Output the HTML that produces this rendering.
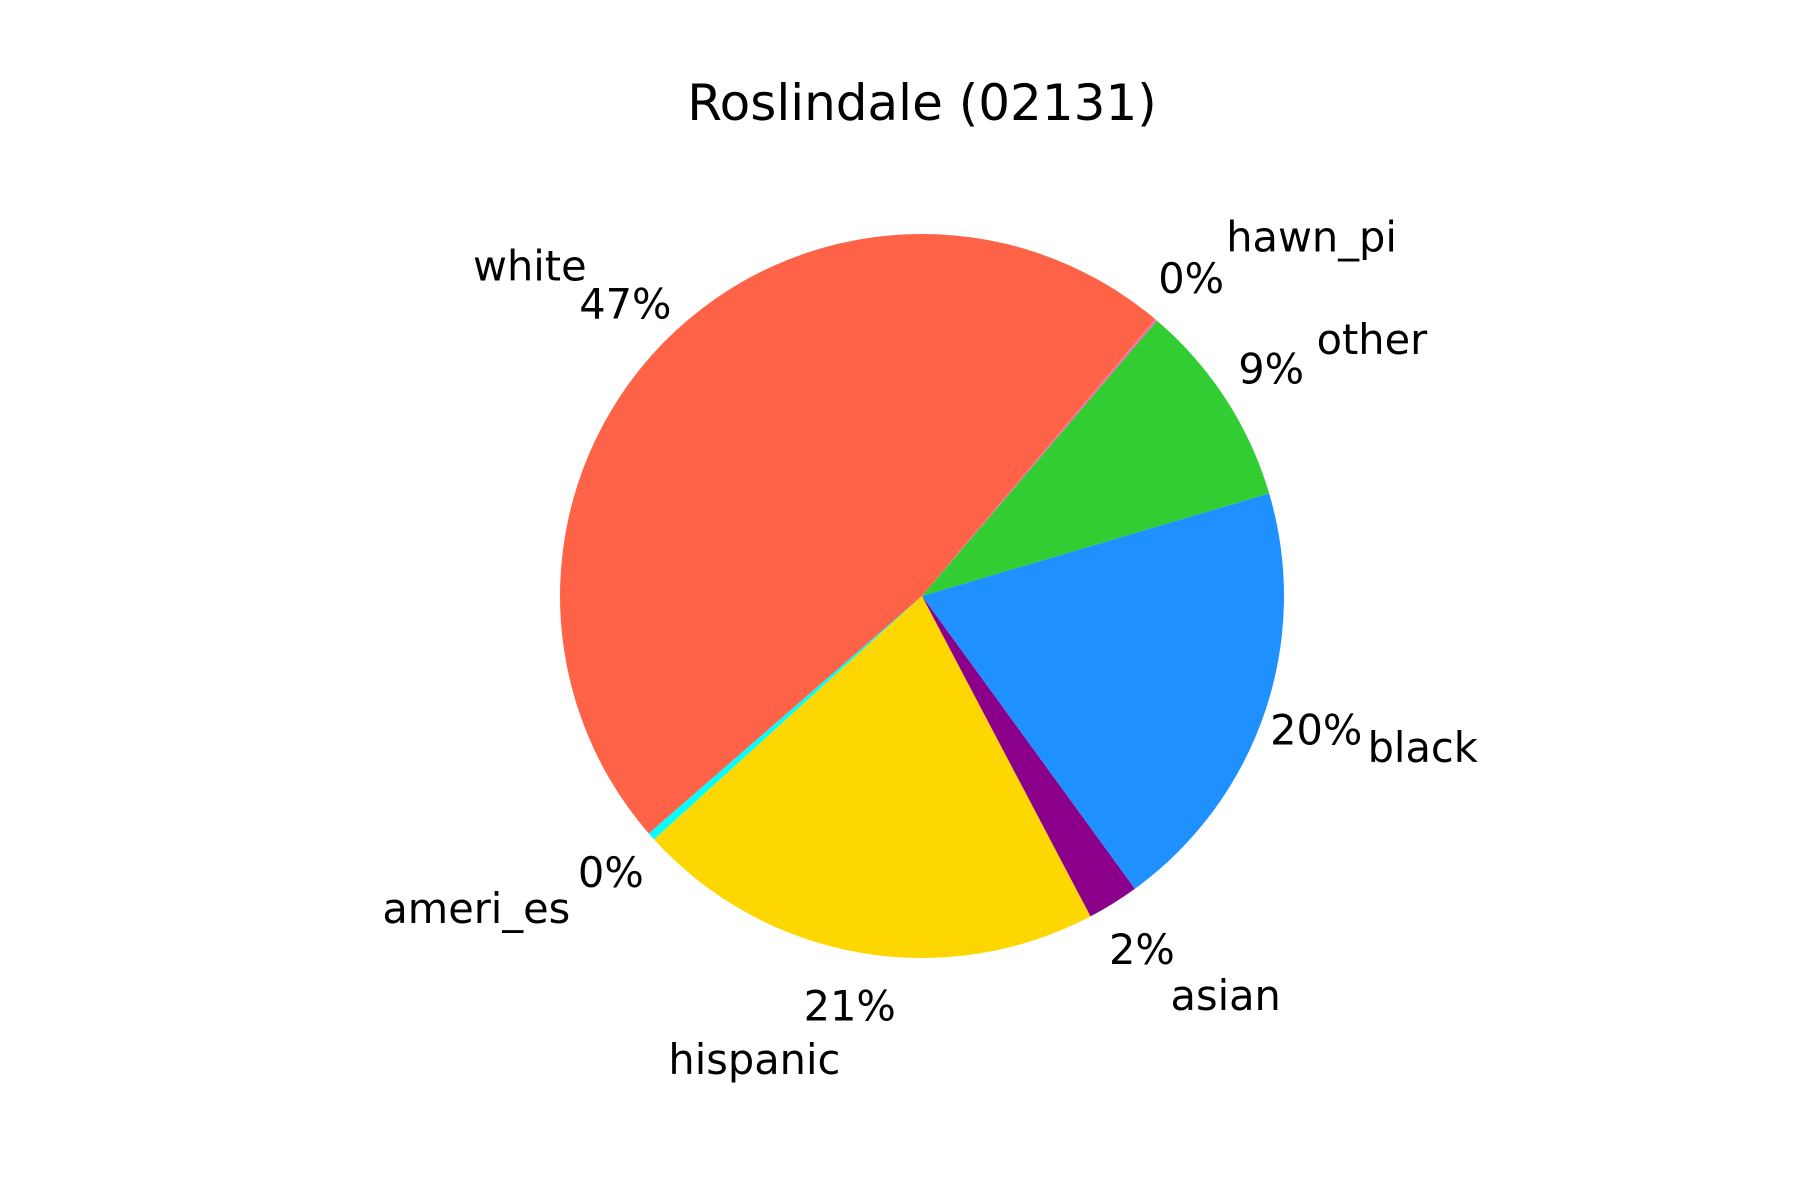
<!DOCTYPE html>
<html><head><meta charset="utf-8"><style>
html,body{margin:0;padding:0;background:#fff;}
svg{display:block;}
text{font-family:"DejaVu Sans","Liberation Sans",sans-serif;fill:#000;}
</style></head>
<body>
<svg id="chart" width="1800" height="1200" viewBox="0 0 1800 1200" xmlns="http://www.w3.org/2000/svg">
<rect width="1800" height="1200" fill="#fff"/>
<text x="922" y="120" font-size="50" text-anchor="middle">Roslindale (02131)</text>
<g id="slices"></g>
<g id="labels"></g>
</svg>
<script>
const categories = ["white","ameri_es","hispanic","asian","black","other","hawn_pi"];
const values = [47.6, 0.35, 21.0, 2.3, 19.6, 9.2, 0.1];
const pctLabels = ["47%","0%","21%","2%","20%","9%","0%"];
const colors = ["#ff6347","#00ffff","#ffd700","#8b008b","#1e90ff","#32cd32","#ff69b4"];
const startAngle = 49.9;
const cx = 922, cy = 596, r = 362;
const ns = "http://www.w3.org/2000/svg";
const total = values.reduce((a,b)=>a+b,0);
function pt(deg, rad){const a=deg*Math.PI/180;return [cx+rad*Math.cos(a), cy-rad*Math.sin(a)];}
const gS=document.getElementById('slices'), gL=document.getElementById('labels');
let ang=startAngle;
values.forEach((v,i)=>{
  const span=v/total*360, a0=ang, a1=ang+span; ang=a1;
  const p0=pt(a0,r), p1=pt(a1,r);
  const large=span>180?1:0;
  const path=document.createElementNS(ns,'path');
  path.setAttribute('d',`M${cx},${cy} L${p0[0]},${p0[1]} A${r},${r} 0 ${large} 0 ${p1[0]},${p1[1]} Z`);
  path.setAttribute('fill',colors[i]);
  
  
  gS.appendChild(path);
  const mid=(a0+a1)/2;
  const pp=pt(mid,r*1.15);
  const t1=document.createElementNS(ns,'text');
  t1.setAttribute('x',pp[0]);t1.setAttribute('y',pp[1]);
  t1.setAttribute('font-size','41.5');t1.setAttribute('text-anchor','middle');
  t1.setAttribute('dominant-baseline','central');
  t1.textContent=pctLabels[i];
  
  
  gL.appendChild(t1);
  const lp=pt(mid,r*1.3);
  const t2=document.createElementNS(ns,'text');
  t2.setAttribute('x',lp[0]);t2.setAttribute('y',lp[1]);
  t2.setAttribute('font-size','41.5');
  t2.setAttribute('text-anchor',Math.cos(mid*Math.PI/180)>=0?'start':'end');
  t2.setAttribute('dominant-baseline','central');
  t2.textContent=categories[i];
  
  
  gL.appendChild(t2);
});
</script>
</body></html>
